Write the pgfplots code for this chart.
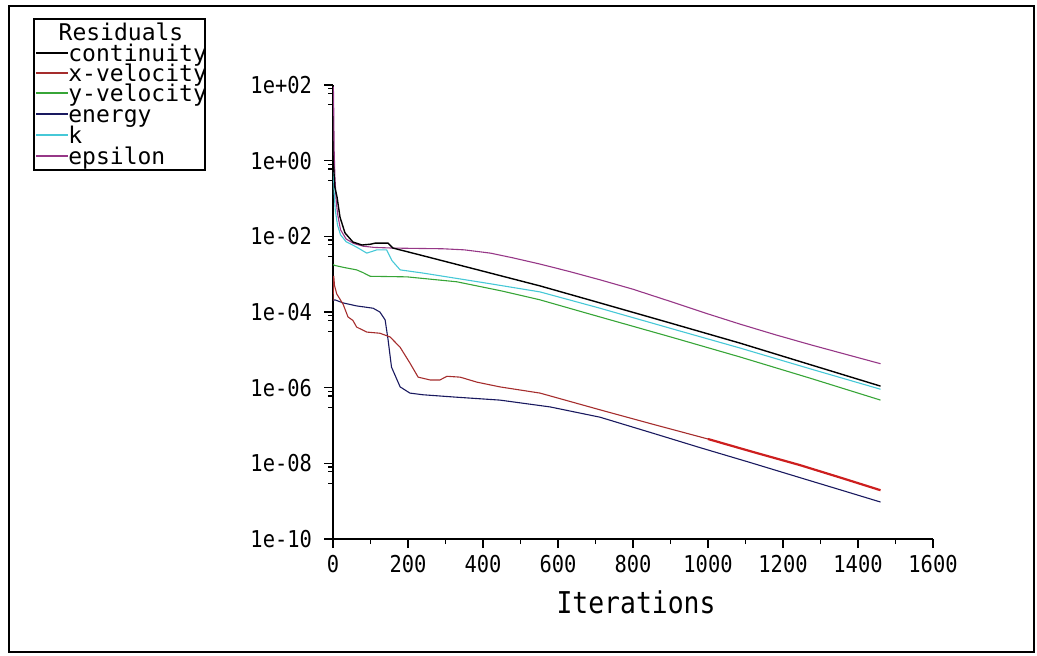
\documentclass[border=0pt]{standalone}
\usepackage{pgfplots}
\pgfplotsset{compat=1.18}
\usepackage{fontspec}
\newfontfamily\fl{DejaVu Sans Mono}
\newfontfamily\fls[FakeStretch=0.88]{DejaVu Sans Mono}
\definecolor{cont}{RGB}{0,0,0}
\definecolor{xvel}{RGB}{165,45,45}
\definecolor{xvelb}{RGB}{205,30,30}
\definecolor{yvel}{RGB}{55,165,55}
\definecolor{ener}{RGB}{25,25,95}
\definecolor{kcol}{RGB}{70,200,215}
\definecolor{eps}{RGB}{150,55,135}
\begin{document}
\begin{tikzpicture}
\begin{scope}[x=0.5pt,y=-0.5pt]
\path (0,0) rectangle (1037,655);
\draw[line width=1.2pt] (9,6) rectangle (1034,652);
\draw[line width=0.6pt] (34,19) rectangle (205,170);
\node[anchor=base, inner sep=0pt, font=\fontsize{11.5}{12}\fl] at (121,40) {Residuals};
\foreach \y/\c/\t in {53/cont/continuity,73/xvel/x-velocity,93/yvel/y-velocity,114/ener/energy,135/kcol/k,156/eps/epsilon}{
  \draw[\c, line width=0.6pt] (36,\y) -- (68,\y);
  \node[anchor=base west, inner sep=0pt, font=\fontsize{11.5}{12}\fl] at (68,\y+8.5) {\t};
}
\end{scope}
\begin{axis}[
  at={(166.5pt,-269.5pt)}, anchor=south west,
  scale only axis, width=300pt, height=227pt,
  ymode=log, xmin=0, xmax=1600, ymin=1e-10, ymax=1e2,
  axis x line=bottom, axis y line=left,
  axis line style={-, line width=0.75pt},
  xtick={0,200,...,1600},
  xticklabels={0,200,400,600,800,1000,1200,1400,1600},
  minor xtick={100,300,...,1500},
  ytick={1e-10,1e-8,1e-6,1e-4,1e-2,1,1e2},
  yticklabels={1e-10,1e-08,1e-06,1e-04,1e-02,1e+00,1e+02},
  minor ytick={80,60,30,0.8,0.6,0.3,8e-3,6e-3,3e-3,8e-5,6e-5,3e-5,8e-7,6e-7,3e-7,8e-9,6e-9,3e-9},
  tick align=outside,
  major tick length=4.5pt, minor tick length=2.5pt,
  tick style={black, line width=0.6pt},
  ticklabel style={font=\fontsize{11.6}{12}\fls},
  yticklabel style={xshift=-2.5pt},
  xlabel={Iterations},
  xlabel style={font=\fontsize{15}{16}\fls, at={(axis description cs:0.505,0)}, anchor=center, yshift=-31.5pt},
]
\addplot[eps, line width=0.55pt] coordinates {
(0,70) (1,90) (2,20) (3,2) (5,0.4) (8,0.1) (12,0.04) (20,0.015) (35,0.0085) (55,0.0065) (80,0.0055) (110,0.0051) (160,0.0049) (220,0.0048) (292,0.0047) (350,0.0044) (420,0.0036) (480,0.0027) (552,0.00185) (630,0.00118) (712,7.1e-4) (800,4.0e-4) (900,1.9e-4) (1000,8.9e-5) (1085,4.8e-5) (1180,2.5e-5) (1275,1.35e-5) (1370,7.5e-6) (1460,4.3e-6)};
\addplot[kcol, line width=0.55pt] coordinates {
(0,0.4) (1,0.5) (3,0.15) (6,0.05) (12,0.02) (20,0.011) (35,0.0072) (63,0.0052) (90,0.0036) (117,0.0044) (143,0.0044) (157,0.0023) (179,0.0013) (240,0.00107) (400,6.0e-4) (552,3.4e-4) (712,1.26e-4) (900,3.7e-5) (1085,1.12e-5) (1275,3.1e-6) (1460,9.1e-7)};
\addplot[yvel, line width=0.55pt] coordinates {
(0,0.0018) (5,0.0017) (30,0.0015) (63,0.0013) (80,0.0011) (99,0.00088) (197,0.00085) (330,0.00063) (450,3.6e-4) (552,2.1e-4) (712,7.4e-5) (900,2.2e-5) (1085,6.5e-6) (1275,1.75e-6) (1460,4.7e-7)};
\addplot[cont, line width=0.7pt] coordinates {
(0,1) (2,0.6) (5,0.2) (10.7,0.11) (18.7,0.032) (32,0.0123) (53,0.0071) (77,0.0059) (100,0.0062) (112,0.0066) (147,0.0066) (160,0.0049) (250,0.0029) (400,0.0012) (552,4.9e-4) (712,1.74e-4) (900,5.1e-5) (1085,1.51e-5) (1275,4.0e-6) (1460,1.1e-6)};
\addplot[ener, line width=0.55pt] coordinates {
(0,2e-4) (5,2.1e-4) (27,1.74e-4) (63,1.45e-4) (107,1.26e-4) (125,1.0e-4) (139,6.2e-5) (147,1.8e-5) (156,3.5e-6) (179,1.05e-6) (205,7.2e-7) (240,6.5e-7) (330,5.6e-7) (445,4.7e-7) (579,3.1e-7) (712,1.66e-7) (850,6.4e-8) (979,2.6e-8) (1110,1.07e-8) (1245,4.2e-9) (1360,1.9e-9) (1460,9.5e-10)};
\addplot[xvel, line width=0.55pt] coordinates {
(0,2e-4) (2,9e-4) (4,5e-4) (10,3e-4) (27,1.6e-4) (40,7.4e-5) (53,6e-5) (63,4.0e-5) (90,2.95e-5) (125,2.75e-5) (152,2.2e-5) (179,1.17e-5) (205,4.5e-6) (227,1.9e-6) (259,1.6e-6) (285,1.6e-6) (304,2.0e-6) (339,1.9e-6) (384,1.4e-6) (445,1.05e-6) (552,7.2e-7) (712,2.6e-7) (850,1.1e-7) (1000,4.4e-8)};
\addplot[xvelb, line width=1.1pt] coordinates {
(1000,4.4e-8) (1120,2.0e-8) (1245,9.0e-9) (1360,4.0e-9) (1460,1.95e-9)};
\end{axis}
\end{tikzpicture}
\end{document}
